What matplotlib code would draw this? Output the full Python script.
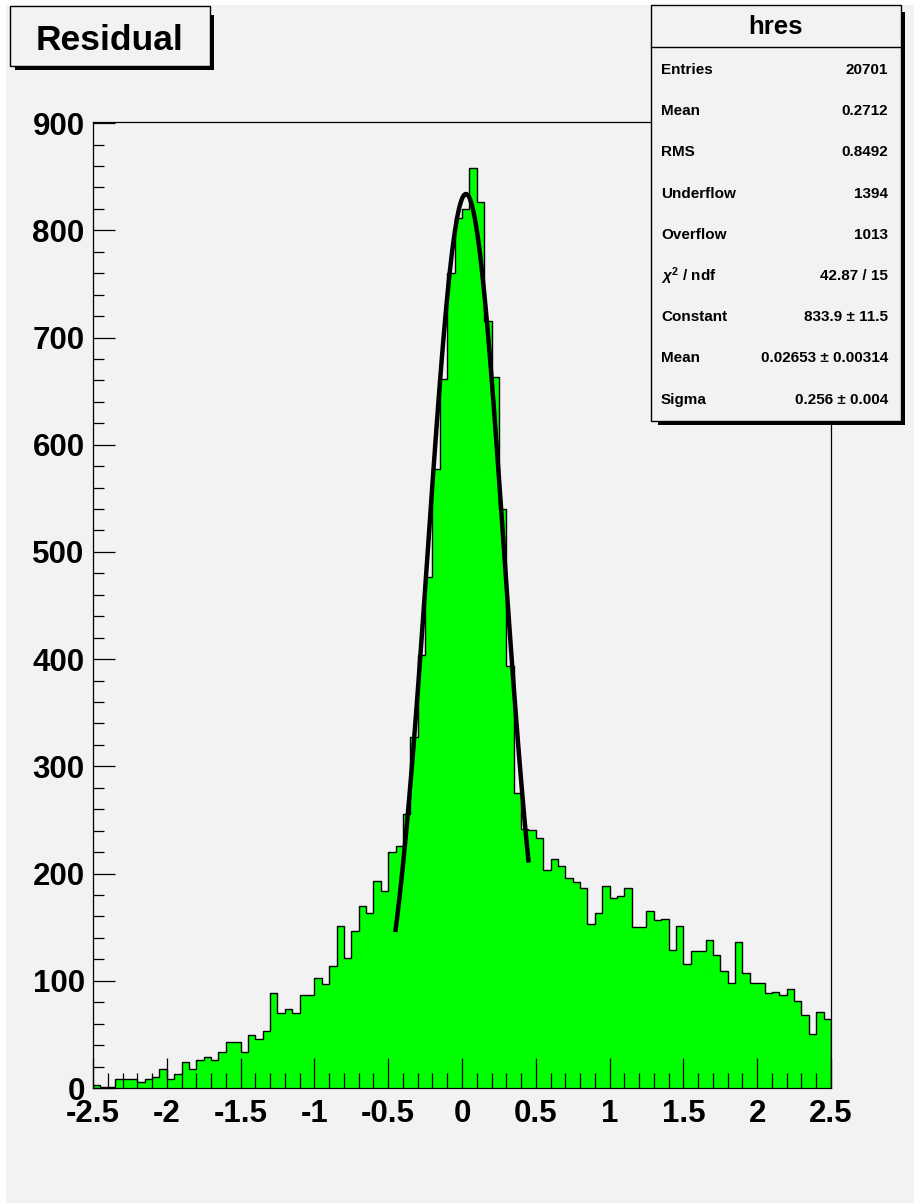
import numpy as np
import matplotlib.pyplot as plt
import matplotlib.patches as patches

plt.rcParams['font.family'] = ['Liberation Sans', 'DejaVu Sans']
plt.rcParams['font.weight'] = 'bold'
plt.rcParams['mathtext.fontset'] = 'custom'
plt.rcParams['mathtext.rm'] = 'Liberation Sans'
plt.rcParams['mathtext.it'] = 'Liberation Sans:italic'

# histogram hres: 100 bins from -2.5 to 2.5
x_min, x_max, n_bins = -2.5, 2.5, 100
counts = [
    3, 1, 1, 8, 8, 8, 6, 8, 10, 18,
    8, 13, 24, 18, 26, 29, 26, 34, 43, 43,
    34, 49, 46, 53, 89, 70, 74, 70, 87, 87,
    103, 97, 114, 151, 121, 146, 170, 163, 193, 184,
    220, 226, 256, 327, 404, 477, 577, 661, 760, 811,
    820, 858, 826, 715, 663, 540, 394, 275, 242, 241,
    233, 203, 214, 207, 196, 192, 187, 153, 163, 188,
    177, 179, 187, 150, 150, 165, 157, 158, 129, 151,
    116, 128, 128, 138, 124, 109, 98, 136, 107, 98,
    98, 89, 90, 87, 92, 81, 68, 50, 71, 64,
]

# gaussian fit result shown in the stats box
fit_const, fit_mean, fit_sigma = 833.9, 0.02653, 0.256
fit_range = (-0.45, 0.45)

stat_labels = ["Entries", "Mean", "RMS", "Underflow", "Overflow",
               r"$\chi^{2}$ / ndf", "Constant", "Mean", "Sigma"]
stat_values = ["20701", "0.2712", "0.8492", "1394", "1013",
               "42.87 / 15", "833.9 \u00b1 11.5", "0.02653 \u00b1 0.00314",
               "0.256 \u00b1 0.004"]

W, H = 914, 1203
bg = '#f2f2f2'
fig = plt.figure(figsize=(W / 100, H / 100), dpi=100, facecolor='white')

# canvas (gray, with thin white border on top/left)
fig.patches.append(patches.Rectangle((6 / W, 0), 1, 1 - 5 / H, transform=fig.transFigure,
                                     facecolor=bg, edgecolor='none', zorder=-10))


def px_box(x0, y0, x1, y1):
    # pixel coords (top-left origin) -> figure fraction rect
    return (x0 / W, 1 - y1 / H, (x1 - x0) / W, (y1 - y0) / H)


ax = fig.add_axes(px_box(93, 122, 831, 1088))
ax.set_facecolor(bg)

edges = np.linspace(x_min, x_max, n_bins + 1)
ax.stairs(counts, edges, fill=True, color='#00ff00', zorder=1)
ax.stairs(counts, edges, color='black', lw=1.0, zorder=2)

xf = np.linspace(fit_range[0], fit_range[1], 100)
yf = fit_const * np.exp(-0.5 * ((xf - fit_mean) / fit_sigma) ** 2)
ax.plot(xf, yf, color='black', lw=3.2, zorder=3)

ax.set_xlim(x_min, x_max)
ax.set_ylim(0, 901)
ax.set_xticks(np.arange(-2.5, 2.51, 0.5))
ax.set_xticks(np.arange(-2.5, 2.51, 0.1), minor=True)
ax.set_yticks(np.arange(0, 901, 100))
ax.set_yticks(np.arange(0, 901, 20), minor=True)
ax.set_xticklabels([f"{v:g}" for v in np.arange(-2.5, 2.51, 0.5)])
ax.tick_params(axis='x', which='major', direction='in', length=21.5, width=0.9, pad=8,
               labelsize=22.5)
ax.tick_params(axis='x', which='minor', direction='in', length=10.8, width=0.9)
ax.tick_params(axis='y', which='major', direction='in', length=15.8, width=0.9, pad=6,
               labelsize=22.5)
ax.tick_params(axis='y', which='minor', direction='in', length=7.9, width=0.9)
for lab in ax.get_xticklabels() + ax.get_yticklabels():
    lab.set_fontweight('bold')
for sp in ax.spines.values():
    sp.set_linewidth(0.9)
    sp.set_zorder(4)

# title box
sh = 4
fig.patches.append(patches.Rectangle(px_box(15, 11 + sh, 210 + sh, 66 + sh)[:2],
                                     (195 + sh) / W, (55) / H, transform=fig.transFigure,
                                     facecolor='black', edgecolor='none', zorder=5))
r = px_box(10, 6, 210, 66)
fig.patches.append(patches.Rectangle(r[:2], r[2], r[3], transform=fig.transFigure,
                                     facecolor=bg, edgecolor='black', lw=1.0, zorder=6))
fig.text(110 / W, 1 - 40 / H, "Residual", ha='center', va='center', fontsize=25.5,
         fontweight='bold', zorder=7)

# stats box
sx0, sy0, sx1, sy1 = 651, 5, 901, 421
fig.patches.append(patches.Rectangle(((sx0 + 7) / W, 1 - (sy1 + sh) / H),
                                     (sx1 - sx0 - 7 + sh) / W, (sy1 - sy0 - 7 + sh) / H,
                                     transform=fig.transFigure, facecolor='black',
                                     edgecolor='none', zorder=5))
r = px_box(sx0, sy0, sx1, sy1)
fig.patches.append(patches.Rectangle(r[:2], r[2], r[3], transform=fig.transFigure,
                                     facecolor=bg, edgecolor='black', lw=1.0, zorder=6))
fig.lines.append(plt.Line2D([sx0 / W, sx1 / W], [1 - 46.5 / H, 1 - 46.5 / H],
                            transform=fig.transFigure, color='black', lw=1.0, zorder=7))
fig.text((sx0 + sx1) / 2 / W, 1 - 27 / H, "hres", ha='center', va='center',
         fontsize=18.5, fontweight='bold', zorder=7)
row_y = 70
for lab, val in zip(stat_labels, stat_values):
    fig.text(661 / W, 1 - row_y / H, lab, ha='left', va='center', fontsize=11,
             fontweight='bold', zorder=7)
    fig.text(888 / W, 1 - row_y / H, val, ha='right', va='center', fontsize=11,
             fontweight='bold', zorder=7)
    row_y += 41.2

fig.savefig("out.png", dpi=100, facecolor=fig.get_facecolor())
